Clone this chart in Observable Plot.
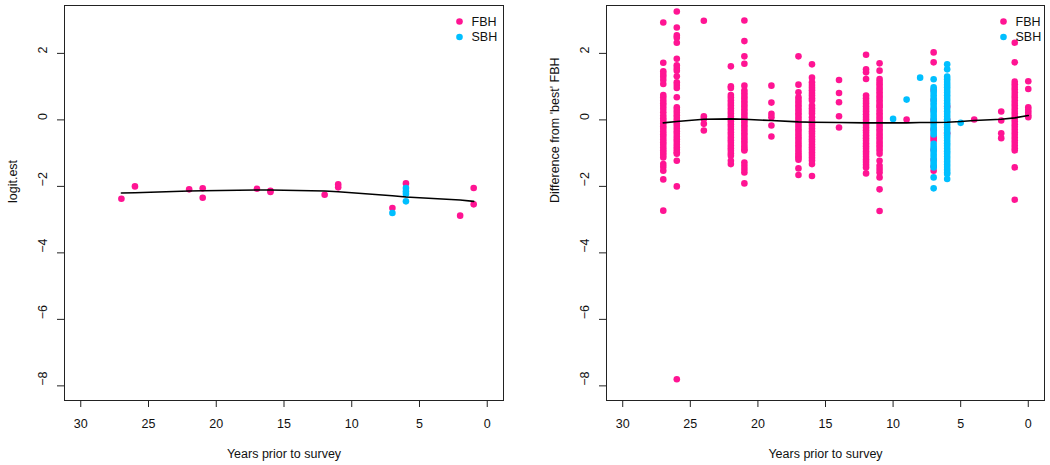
<!DOCTYPE html>
<html>
<head>
<meta charset="utf-8">
<script src="https://cdn.jsdelivr.net/npm/d3@7"></script>
<script src="https://cdn.jsdelivr.net/npm/@observablehq/plot@0.6"></script>
<style>
  html, body { margin: 0; padding: 0; background: #fff; }
  #wrap { display: flex; width: 1050px; height: 465px; }
</style>
</head>
<body>
<div id="wrap"></div>
<script>
// ---------- data ----------
const seriesNames = ["FBH", "SBH"];
const seriesColors = ["#ff1493", "#00bfff"];
const xTicks = [0, 5, 10, 15, 20, 25, 30];
const yTicks = [-8, -6, -4, -2, 0, 2];
const xLabel = "Years prior to survey";
const leftYLabel = "logit.est";
const rightYLabel = "Difference from 'best' FBH";

// left panel
const leftFbhYears = [27, 26, 22, 21, 21, 17, 16, 16, 12, 11, 11, 7, 6, 2, 1, 1];
const leftFbhEst = [-2.37, -2.00, -2.09, -2.06, -2.34, -2.07, -2.13, -2.17, -2.25, -1.94, -2.03, -2.65, -1.91, -2.88, -2.05, -2.54];
const leftSbhYears = [7, 6, 6, 6, 6];
const leftSbhEst = [-2.80, -2.05, -2.15, -2.23, -2.45];
const leftSmoothYears = [27, 26, 22, 21, 17, 16, 12, 11, 7, 6, 2, 1];
const leftSmoothEst = [-2.20, -2.19, -2.14, -2.13, -2.11, -2.11, -2.14, -2.16, -2.28, -2.32, -2.41, -2.45];

// right panel: FBH differences per year
const fbhDiffYears = [27, 26, 24, 22, 21, 19, 17, 16, 14, 12, 11, 9, 7, 6, 4, 2, 1, 0];
const fbhDiffValues = [
  [2.93, 1.72, 1.46, 1.38, 1.30, 1.20, 1.08, 0.75, 0.67, 0.58, 0.50, 0.42, 0.33, 0.23, 0.13, 0.05, -0.03, -0.11, -0.19, -0.27, -0.35, -0.43, -0.51, -0.59, -0.67, -0.75, -0.83, -0.91, -0.99, -1.06, -1.13, -1.33, -1.42, -1.53, -1.79, -2.73],
  [3.26, 2.78, 2.54, 2.47, 2.32, 1.84, 1.64, 1.56, 1.48, 1.31, 1.13, 1.05, 0.96, 0.68, 0.38, 0.30, 0.22, 0.14, 0.06, -0.02, -0.10, -0.18, -0.26, -0.34, -0.42, -0.50, -0.58, -0.66, -0.74, -0.82, -0.90, -0.97, -1.02, -1.23, -2.00, -7.80],
  [2.98, 0.11, 0.03, -0.12, -0.32],
  [1.61, 1.01, 0.96, 0.75, 0.67, 0.59, 0.51, 0.43, 0.35, 0.27, 0.19, 0.11, 0.03, -0.05, -0.13, -0.21, -0.29, -0.37, -0.45, -0.53, -0.61, -0.69, -0.77, -0.85, -0.93, -1.01, -1.08, -1.23, -1.33],
  [2.99, 2.37, 1.91, 1.69, 1.03, 0.88, 0.80, 0.72, 0.64, 0.56, 0.48, 0.40, 0.32, 0.24, 0.16, 0.08, 0.00, -0.08, -0.16, -0.24, -0.32, -0.40, -0.48, -0.56, -0.64, -0.72, -0.80, -0.88, -0.92, -1.28, -1.38, -1.48, -1.58, -1.91],
  [1.03, 0.52, 0.18, 0.08, -0.17, -0.50],
  [1.91, 1.06, 0.83, 0.68, 0.60, 0.52, 0.44, 0.36, 0.28, 0.20, 0.12, 0.04, -0.04, -0.12, -0.20, -0.28, -0.36, -0.44, -0.52, -0.60, -0.68, -0.76, -0.84, -0.92, -1.00, -1.08, -1.13, -1.20, -1.46, -1.66],
  [1.67, 1.27, 1.13, 1.05, 0.97, 0.89, 0.81, 0.73, 0.65, 0.58, 0.43, 0.35, 0.27, 0.19, 0.08, -0.02, -0.10, -0.18, -0.26, -0.34, -0.42, -0.50, -0.58, -0.66, -0.74, -0.82, -0.90, -0.98, -1.06, -1.14, -1.22, -1.33, -1.69],
  [1.20, 0.81, 0.53, 0.11, -0.23],
  [1.96, 1.52, 1.43, 1.23, 0.73, 0.65, 0.57, 0.49, 0.41, 0.33, 0.25, 0.17, 0.09, 0.01, -0.07, -0.15, -0.23, -0.31, -0.39, -0.47, -0.55, -0.63, -0.71, -0.79, -0.87, -0.95, -1.03, -1.11, -1.19, -1.27, -1.35, -1.43, -1.61],
  [1.70, 1.48, 1.23, 1.15, 1.07, 0.99, 0.91, 0.83, 0.75, 0.67, 0.59, 0.51, 0.43, 0.38, 0.28, 0.20, 0.12, 0.04, -0.04, -0.12, -0.20, -0.28, -0.36, -0.44, -0.52, -0.60, -0.68, -0.76, -0.84, -0.92, -1.02, -1.23, -1.38, -1.48, -1.58, -1.73, -2.09, -2.74],
  [0.01],
  [2.03, 1.73, 0.90, 0.60, 0.30, 0.00, -0.30, -0.50, -0.56, -0.62, -0.90, -1.20, -1.40, -1.53],
  [0.00, -0.40, 0.40],
  [0.01],
  [0.25, -0.02, -0.40, -0.55],
  [2.32, 1.73, 1.15, 1.07, 0.99, 0.91, 0.83, 0.75, 0.67, 0.59, 0.51, 0.43, 0.35, 0.27, 0.19, 0.11, 0.03, -0.05, -0.13, -0.21, -0.29, -0.37, -0.45, -0.53, -0.61, -0.69, -0.77, -0.85, -0.92, -1.43, -2.40],
  [1.16, 0.93, 0.38, 0.30, 0.22, 0.14, 0.08]
];
// right panel: SBH differences per year
const sbhDiffYears = [10, 9, 8, 7, 6, 5];
const sbhDiffValues = [
  [0.03],
  [0.61],
  [1.27],
  [1.22, 0.98, 0.90, 0.82, 0.74, 0.66, 0.58, 0.50, 0.42, 0.34, 0.26, 0.18, 0.10, 0.02, -0.06, -0.14, -0.22, -0.30, -0.38, -0.44, -0.72, -0.80, -0.88, -0.96, -1.04, -1.12, -1.20, -1.28, -1.36, -1.43, -1.73, -2.06],
  [1.67, 1.52, 1.30, 1.22, 1.14, 1.06, 0.98, 0.90, 0.82, 0.74, 0.66, 0.58, 0.50, 0.42, 0.34, 0.26, 0.18, 0.10, 0.02, -0.06, -0.14, -0.22, -0.30, -0.38, -0.46, -0.54, -0.62, -0.70, -0.78, -0.86, -0.94, -1.02, -1.10, -1.18, -1.26, -1.34, -1.42, -1.50, -1.58, -1.63, -1.78],
  [-0.09]
];
const rightSmoothYears = [27, 26, 24, 22, 21, 19, 17, 16, 14, 12, 11, 10, 9, 8, 7, 6, 5, 4, 2, 1, 0];
const rightSmoothDiff = [-0.09, -0.05, 0.02, 0.03, 0.02, -0.02, -0.06, -0.07, -0.08, -0.09, -0.09, -0.09, -0.09, -0.08, -0.08, -0.07, -0.05, -0.02, 0.02, 0.06, 0.13];

// ---------- build tables ----------
const leftPoints = [
  ...leftFbhYears.map((x, i) => ({x, y: leftFbhEst[i], s: "FBH"})),
  ...leftSbhYears.map((x, i) => ({x, y: leftSbhEst[i], s: "SBH"}))
];
const leftLine = leftSmoothYears.map((x, i) => ({x, y: leftSmoothEst[i]}));
const rightPoints = [
  ...fbhDiffYears.flatMap((x, i) => fbhDiffValues[i].map(y => ({x, y, s: "FBH"}))),
  ...sbhDiffYears.flatMap((x, i) => sbhDiffValues[i].map(y => ({x, y, s: "SBH"})))
];
const rightLine = rightSmoothYears.map((x, i) => ({x, y: rightSmoothDiff[i]}));

const FONT = "'Liberation Sans', Arial, Helvetica, sans-serif";
const FS = 12.5;
const fmt = d => (d < 0 ? "\u2212" + Math.abs(d) : String(d));

function panel({points, line, yLabel, marginLeft, marginRight, legendDx}) {
  return Plot.plot({
    width: 525,
    height: 465,
    marginLeft,
    marginRight,
    marginTop: 5,
    marginBottom: 65,
    style: {fontFamily: FONT, fontSize: FS + "px", background: "#fff", color: "#111"},
    x: {domain: [31.2, -1.2]},
    y: {domain: [-8.44, 3.44]},
    color: {domain: seriesNames, range: seriesColors},
    marks: [
      Plot.dot(points, {x: "x", y: "y", fill: "s", r: 3.3, stroke: "none"}),
      Plot.line(line, {x: "x", y: "y", stroke: "#000", strokeWidth: 1.6}),
      Plot.frame({stroke: "#222", strokeWidth: 1}),
      Plot.axisX({ticks: xTicks, tickSize: 7, tickFormat: () => "", label: null, stroke: "#222"}),
      Plot.axisY({ticks: yTicks, tickSize: 7, tickFormat: () => "", label: null, stroke: "#222"}),
      Plot.text(xTicks, {x: d => d, frameAnchor: "bottom", dy: 23, lineAnchor: "middle", text: d => fmt(d), fontSize: FS, fill: "#111"}),
      Plot.text(yTicks, {y: d => d, frameAnchor: "left", dx: -22, rotate: -90, lineAnchor: "middle", text: d => fmt(d), fontSize: FS, fill: "#111"}),
      Plot.text([xLabel], {frameAnchor: "bottom", dy: 53, lineAnchor: "middle", text: d => d, fontSize: FS, fill: "#111"}),
      Plot.text([yLabel], {frameAnchor: "left", dx: -52, rotate: -90, lineAnchor: "middle", text: d => d, fontSize: FS, fill: "#111"}),
      // legend (top-right, inside frame)
      ...seriesNames.map((name, i) => Plot.dot([name], {frameAnchor: "top-right", dx: legendDx, dy: 16 + 15.5 * i, fill: d => d, r: 3.3})),
      ...seriesNames.map((name, i) => Plot.text([name], {frameAnchor: "top-right", dx: legendDx + 12, dy: 16 + 15.5 * i, textAnchor: "start", lineAnchor: "middle", text: d => d, fontSize: FS, fill: "#111"}))
    ]
  });
}

const wrap = document.getElementById("wrap");
wrap.appendChild(panel({points: leftPoints, line: leftLine, yLabel: leftYLabel, marginLeft: 64, marginRight: 22, legendDx: -44}));
wrap.appendChild(panel({points: rightPoints, line: rightLine, yLabel: rightYLabel, marginLeft: 81, marginRight: 6, legendDx: -41}));
</script>
</body>
</html>
